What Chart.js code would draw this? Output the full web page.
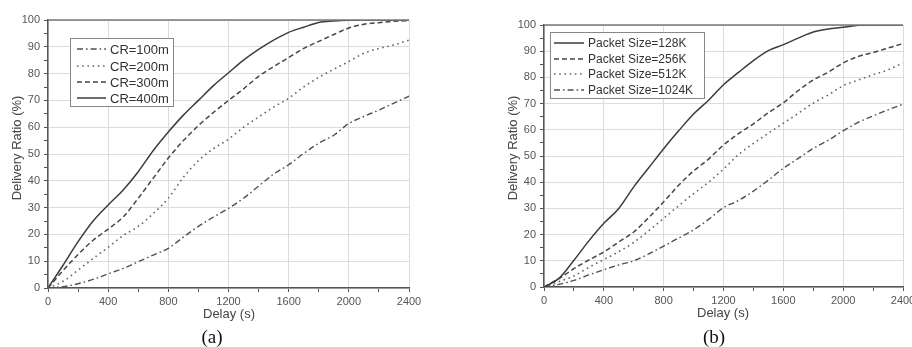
<!DOCTYPE html>
<html>
<head>
<meta charset="utf-8">
<script src="https://cdn.jsdelivr.net/npm/chart.js@4.4.1/dist/chart.umd.min.js"></script>
<style>
  body { margin: 0; background: #fff; width: 912px; height: 347px; overflow: hidden; position: relative; }
  .box { position: absolute; top: 0; width: 456px; height: 347px; }
</style>
</head>
<body>
<div class="box" style="left:0"><canvas id="chartA"></canvas></div>
<div class="box" style="left:456px"><canvas id="chartB"></canvas></div>
<script>
// delay values (s) shared by all curves
var delays = [0, 100, 200, 300, 400, 500, 600, 700, 800, 900, 1000, 1100, 1200,
              1300, 1400, 1500, 1600, 1700, 1800, 1900, 2000, 2100, 2200, 2300, 2400];

// (a) communication range
var crLabels = ['CR=100m', 'CR=200m', 'CR=300m', 'CR=400m'];
var cr100 = [0, 0.5, 1.6, 3.2, 5.3, 7.3, 9.8, 12.3, 14.8, 19, 23, 26.5, 29.7, 33.5, 38, 42.5, 46, 50.2, 54, 57, 61.4, 64, 66.4, 69, 71.6];
var cr200 = [0, 2.5, 6.7, 11, 15.2, 19.6, 23, 27.8, 33.5, 41.3, 47.5, 52, 55.5, 60, 63.8, 67.5, 70.8, 75, 78.6, 81.6, 84.5, 87.6, 89.4, 90.7, 92.5];
var cr300 = [0, 6.5, 12.5, 17.8, 22, 26.5, 33.5, 41, 48.5, 55, 60.6, 65.5, 70, 74.3, 79, 82.6, 86, 89.4, 92, 94.6, 97, 98.4, 99, 99.5, 99.8];
var cr400 = [0, 8.5, 17.3, 25, 31, 36.6, 43.4, 51.3, 58.2, 64.5, 70, 75.5, 80.3, 85, 89, 92.5, 95.4, 97.3, 99.1, 99.6, 99.9, 100, 100, 100, 100];

// (b) packet size
var psLabels = ['Packet Size=128K', 'Packet Size=256K', 'Packet Size=512K', 'Packet Size=1024K'];
var ps128 = [0, 3.3, 10.2, 17.6, 24.3, 30, 38.2, 45.5, 52.8, 59.6, 66, 71.3, 77.2, 81.9, 86.4, 90.2, 92.5, 95, 97.3, 98.5, 99.1, 99.9, 100, 100, 100];
var ps256 = [0, 3.2, 7, 10.3, 13.4, 17.2, 21, 26.5, 32.5, 38.8, 44.3, 48.8, 54.2, 58.5, 62.3, 66.5, 70.3, 75, 79, 82, 85.5, 88, 89.5, 91.2, 92.9];
var ps512 = [0, 2, 4.2, 7.5, 10.5, 13.5, 17, 21.5, 26.2, 31, 35.6, 40, 45, 50.5, 54.8, 58.7, 62.5, 66.3, 70.2, 73.3, 76.8, 79, 81, 82.9, 85.5];
var ps1024 = [0, 1, 2.5, 4.6, 6.6, 8.4, 10, 12.6, 15.6, 18.7, 21.8, 25.8, 30.3, 33, 36.6, 40.8, 45.3, 49.1, 52.9, 56, 59.6, 62.8, 65.3, 67.6, 69.8];

// line looks
var SOLID = { dash: [], color: '#3c3c3c', width: 1.5 };
var DASH = { dash: [5, 3], color: '#454545', width: 1.5 };
var DOT = { dash: [1.6, 3.6], color: '#666', width: 1.6 };
var DASHDOT = { dash: [6, 3, 1.6, 3], color: '#505050', width: 1.4 };

Chart.defaults.font.family = '"Liberation Sans", Arial, sans-serif';
Chart.defaults.animation = false;

function toPoints(values) {
    return delays.map(function(d, i) { return { x: d, y: values[i] }; });
}

function makeDataset(label, values, look) {
    return {
        label: label,
        data: toPoints(values),
        borderColor: look.color,
        borderWidth: look.width,
        borderDash: look.dash,
        pointRadius: 0,
        cubicInterpolationMode: 'monotone',
        fill: false
    };
}

// frame, legend box, axis titles and caption
var decoPlugin = {
    id: 'deco',
    afterDraw: function(chart, args, opts) {
        var ctx = chart.ctx;
        var a = chart.chartArea;
        ctx.save();

        // top frame line
        ctx.strokeStyle = '#777';
        ctx.lineWidth = 1.3;
        ctx.beginPath();
        ctx.moveTo(a.left, a.top);
        ctx.lineTo(a.right, a.top);
        ctx.stroke();

        // legend
        var lg = opts.legend;
        ctx.fillStyle = '#fff';
        ctx.fillRect(lg.x, lg.y, lg.w, lg.h);
        ctx.strokeStyle = '#888';
        ctx.lineWidth = 1;
        ctx.strokeRect(lg.x + 0.5, lg.y + 0.5, lg.w, lg.h);
        ctx.font = lg.fontSize + 'px "Liberation Sans", Arial, sans-serif';
        ctx.textBaseline = 'middle';
        ctx.textAlign = 'left';
        lg.items.forEach(function(it, i) {
            var y = lg.rows[i];
            ctx.strokeStyle = it.look.color;
            ctx.lineWidth = it.look.width;
            ctx.setLineDash(it.look.dash);
            ctx.beginPath();
            ctx.moveTo(lg.lineX0, y);
            ctx.lineTo(lg.lineX1, y);
            ctx.stroke();
            ctx.setLineDash([]);
            ctx.fillStyle = '#333';
            ctx.fillText(it.label, lg.textX, y + 1);
        });

        // axis titles
        ctx.fillStyle = '#444';
        ctx.font = '13px "Liberation Sans", Arial, sans-serif';
        ctx.textAlign = 'center';
        ctx.fillText('Delay (s)', opts.xTitle[0], opts.xTitle[1]);
        ctx.save();
        ctx.translate(opts.yTitle[0], opts.yTitle[1]);
        ctx.rotate(-Math.PI / 2);
        ctx.fillText('Delivery Ratio (%)', 0, 0);
        ctx.restore();

        // caption
        ctx.fillStyle = '#111';
        ctx.font = '19px "Liberation Serif", "Times New Roman", serif';
        ctx.fillText(opts.caption[0], opts.caption[1], opts.caption[2]);
        ctx.restore();
    }
};

function makeChart(id, datasets, pad, axisH, deco) {
    var ctx = document.getElementById(id).getContext('2d');
    return new Chart(ctx, {
        type: 'line',
        data: { datasets: datasets },
        options: {
            responsive: true,
            maintainAspectRatio: false,
            layout: { padding: pad },
            plugins: {
                legend: { display: false },
                tooltip: { enabled: false },
                deco: deco
            },
            scales: {
                x: {
                    type: 'linear',
                    min: 0,
                    max: 2400,
                    afterFit: function(s) { s.height = axisH; s.paddingLeft = 0; s.paddingRight = 0; },
                    ticks: {
                        stepSize: 200,
                        autoSkip: false,
                        maxRotation: 0,
                        padding: 3,
                        color: '#555',
                        font: { size: 11 },
                        callback: function(v) { return v % 400 === 0 ? String(v) : ''; }
                    },
                    grid: {
                        color: function(c) { return c.tick && c.tick.value % 400 === 0 ? '#dcdcdc' : 'rgba(0,0,0,0)'; },
                        tickColor: '#555',
                        tickLength: 4
                    },
                    border: { color: '#555', width: 1.5 }
                },
                y: {
                    min: 0,
                    max: 100,
                    afterFit: function(s) { s.width = 48; },
                    ticks: {
                        stepSize: 5,
                        autoSkip: false,
                        padding: 4,
                        color: '#555',
                        font: { size: 11 },
                        callback: function(v) { return v % 10 === 0 ? String(v) : ''; }
                    },
                    grid: {
                        color: function(c) { return c.tick && c.tick.value % 10 === 0 ? '#dcdcdc' : 'rgba(0,0,0,0)'; },
                        tickColor: '#555',
                        tickLength: 4
                    },
                    border: { color: '#555', width: 1.5 }
                }
            }
        },
        plugins: [decoPlugin]
    });
}

makeChart('chartA', [
    makeDataset(crLabels[0], cr100, DASHDOT),
    makeDataset(crLabels[1], cr200, DOT),
    makeDataset(crLabels[2], cr300, DASH),
    makeDataset(crLabels[3], cr400, SOLID)
], { left: 0, top: 20, right: 47, bottom: 0 }, 59, {
    xTitle: [229, 314],
    yTitle: [17, 148],
    caption: ['(a)', 212, 338],
    legend: {
        x: 70, y: 38, w: 103, h: 68, fontSize: 13,
        rows: [49, 66, 82, 98], lineX0: 77, lineX1: 106, textX: 110,
        items: [
            { label: crLabels[0], look: DASHDOT },
            { label: crLabels[1], look: DOT },
            { label: crLabels[2], look: DASH },
            { label: crLabels[3], look: SOLID }
        ]
    }
});

makeChart('chartB', [
    makeDataset(psLabels[0], ps128, SOLID),
    makeDataset(psLabels[1], ps256, DASH),
    makeDataset(psLabels[2], ps512, DOT),
    makeDataset(psLabels[3], ps1024, DASHDOT)
], { left: 40, top: 25, right: 9, bottom: 0 }, 60, {
    xTitle: [267, 313],
    yTitle: [57, 148],
    caption: ['(b)', 258, 338],
    legend: {
        x: 94, y: 32, w: 154, h: 66, fontSize: 12,
        rows: [43, 59, 74, 90], lineX0: 98, lineX1: 128, textX: 132,
        items: [
            { label: psLabels[0], look: SOLID },
            { label: psLabels[1], look: DASH },
            { label: psLabels[2], look: DOT },
            { label: psLabels[3], look: DASHDOT }
        ]
    }
});
</script>
</body>
</html>
